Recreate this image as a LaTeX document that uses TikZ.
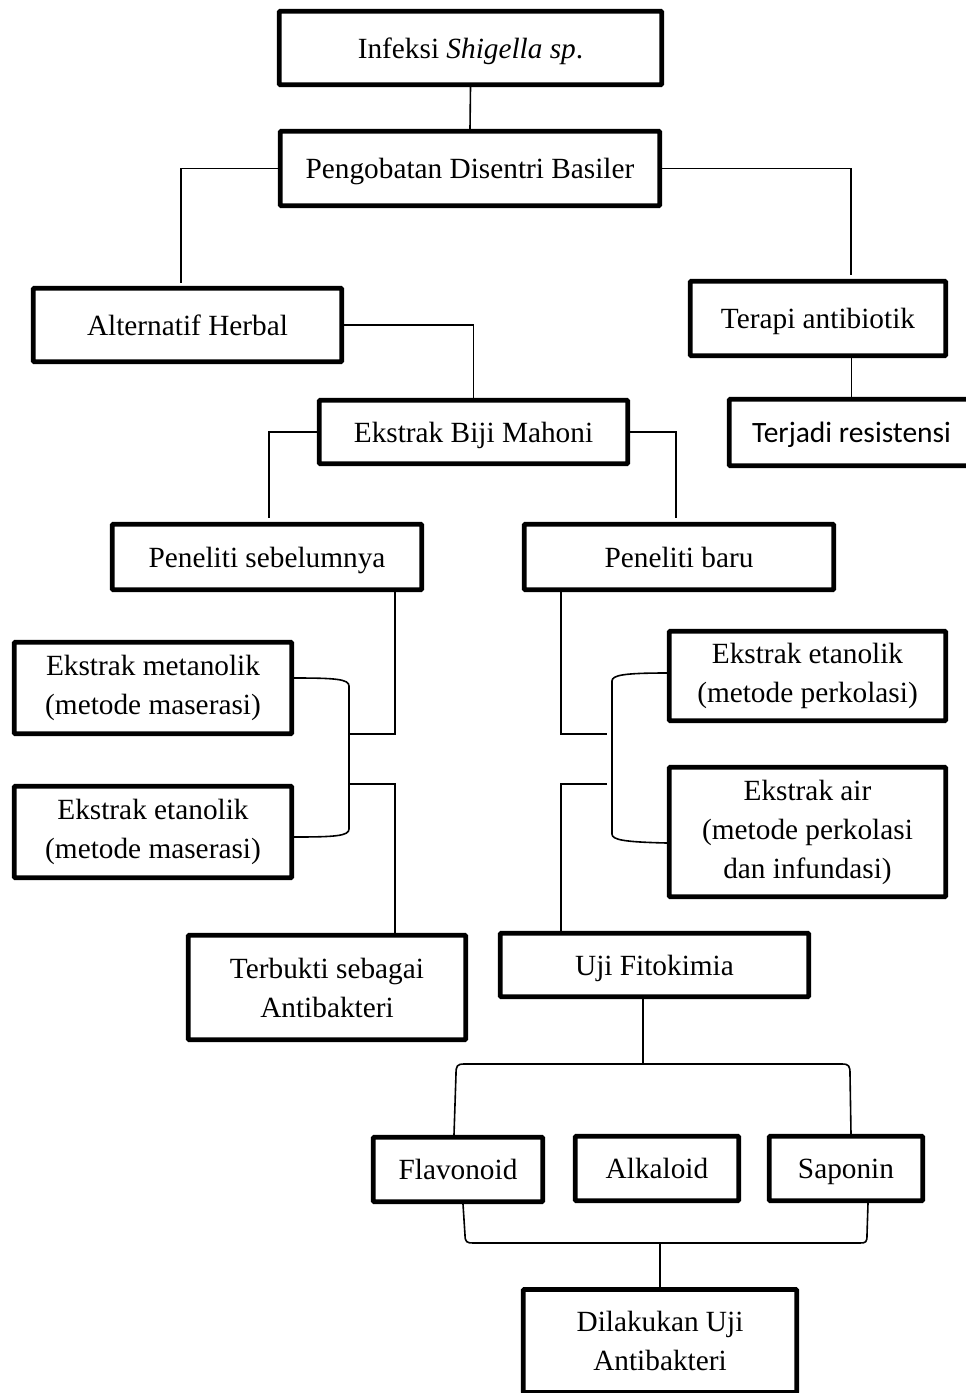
\documentclass[tikz,border=0pt]{standalone}
\usepackage{fontspec}
\setmainfont{Liberation Serif}
\newfontfamily\calibrifont{Carlito}
\begin{document}
\begin{tikzpicture}[x=1pt,y=-1pt,
  box/.style={draw, line width=4.8pt, rounded corners=1pt, align=center, inner sep=0pt,
    font=\fontsize{29.3}{39}\selectfont},
  oneline/.style={text height=20.5pt, text depth=0pt},
  conn/.style={line width=1.6pt}]
\useasboundingbox (0,0) rectangle (966,1393);
% boxes
\node[box, oneline, minimum width=382.5pt, minimum height=73.5pt] (inf) at (470.5,48) {Infeksi \textit{Shigella sp}.};
\node[box, oneline, minimum width=379.5pt, minimum height=74.5pt] (peng) at (470,168.5) {Pengobatan Disentri Basiler};
\node[box, oneline, minimum width=308.5pt, minimum height=73.5pt] (alt) at (187.5,325) {Alternatif Herbal};
\node[box, oneline, minimum width=255.5pt, minimum height=74.5pt] (terapi) at (818,318.5) {Terapi antibiotik};
\node[box, oneline, minimum width=244.5pt, minimum height=66.5pt, font=\calibrifont\fontsize{29.5}{32}\selectfont] (terjadi) at (851.5,432.5) {Terjadi resistensi};
\node[box, oneline, minimum width=308.5pt, minimum height=63.5pt] (biji) at (473.5,432) {Ekstrak Biji Mahoni};
\node[box, oneline, minimum width=309.5pt, minimum height=65.5pt] (psb) at (267,557) {Peneliti sebelumnya};
\node[box, oneline, minimum width=309.5pt, minimum height=65.5pt] (pbaru) at (679,557) {Peneliti baru};
\node[box, minimum width=277.5pt, minimum height=91.5pt] (met) at (153,688) {Ekstrak metanolik\\(metode maserasi)};
\node[box, minimum width=277.5pt, minimum height=91.5pt] (etmas) at (153,832) {Ekstrak etanolik\\(metode maserasi)};
\node[box, minimum width=276.5pt, minimum height=89.5pt] (etper) at (807.5,676) {Ekstrak etanolik\\(metode perkolasi)};
\node[box, minimum width=276.5pt, minimum height=129.5pt] (air) at (807.5,832) {Ekstrak air\\(metode perkolasi\\dan infundasi)};
\node[box, minimum width=277.5pt, minimum height=104.5pt] (terbukti) at (327,987.5) {Terbukti sebagai\\Antibakteri};
\node[box, oneline, minimum width=308.5pt, minimum height=63.5pt] (uji) at (654.5,965) {Uji Fitokimia};
\node[box, oneline, minimum width=169.5pt, minimum height=64.5pt] (flav) at (458,1169.5) {Flavonoid};
\node[box, oneline, minimum width=163.5pt, minimum height=64.5pt] (alk) at (657,1168.5) {Alkaloid};
\node[box, oneline, minimum width=153.5pt, minimum height=64.5pt] (sap) at (846,1168.5) {Saponin};
\node[box, minimum width=273.5pt, minimum height=103pt] (dil) at (660,1341) {Dilakukan Uji\\Antibakteri};
% free ends
\coordinate (c1) at (181,283);
\coordinate (c2) at (851,275);
\coordinate (c3) at (269,518);
\coordinate (c4) at (676,518);
\coordinate (c5) at (350,734);
\coordinate (c6) at (348,784);
\coordinate (c7) at (607,734);
\coordinate (c8) at (607,784);
\coordinate (c9) at (643,1064);
\coordinate (c10) at (660,1243);
% connectors
\draw[conn] (inf.south) -- (peng.north);
\draw[conn] (peng.west) -| (c1);
\draw[conn] (peng.east) -| (c2);
\draw[conn] (terjadi.north) -- (terjadi.north |- terapi.south);
\draw[conn] (alt.east) -| (biji.north);
\draw[conn] (biji.west) -| (c3);
\draw[conn] (biji.east) -| (c4);
\draw[conn] ([xshift=128pt]psb.south) |- (c5);
\draw[conn] ([yshift=10pt]met.east) .. controls (335,678) and (349,679) .. (349,686) -- (349,829) .. controls (349,836) and (335,837) .. ([yshift=-5pt]etmas.east);
\draw[conn] (c6) -| ([xshift=68pt]terbukti.north);
\draw[conn] ([xshift=-118pt]pbaru.south) |- (c7);
\draw[conn] ([yshift=3pt]etper.west) .. controls (625,673) and (612,675) .. (612,681) -- (612,834) .. controls (612,840) and (625,842) .. ([yshift=-11pt]air.west);
\draw[conn] (c8) -| ([xshift=-93.5pt]uji.north);
\draw[conn] ([xshift=-11.5pt]uji.south) -- (c9);
\draw[conn] ([xshift=-4pt]flav.north) -- (456,1074) .. controls (456,1066) and (457,1064) .. (464,1064) -- (842,1064) .. controls (849,1064) and (850,1066) .. (850,1074) -- ([xshift=5pt]sap.north);
\draw[conn] ([xshift=5pt]flav.south) -- (465,1235) .. controls (465,1242) and (467,1243) .. (473,1243) -- (860,1243) .. controls (866,1243) and (867,1242) .. (867,1235) -- ([xshift=22pt]sap.south);
\draw[conn] (c10) -- (dil.north);
\end{tikzpicture}
\end{document}
